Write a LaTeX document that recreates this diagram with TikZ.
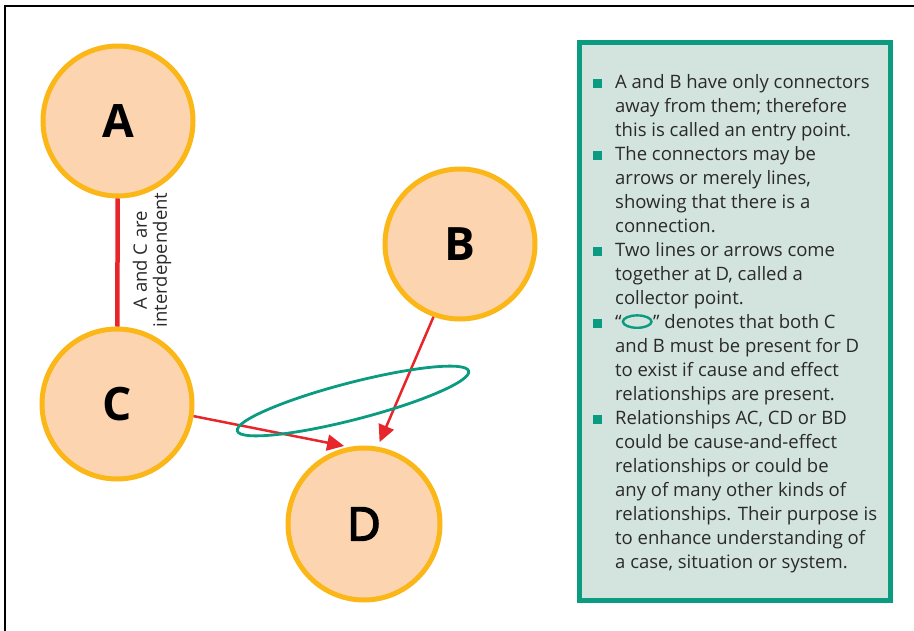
\documentclass[tikz,border=0pt]{standalone}
\usepackage{fontspec}
\setmainfont{Open Sans}
\newfontfamily\medfont[FakeBold=3.5]{Open Sans}
\usetikzlibrary{arrows.meta,shapes.geometric}

\definecolor{peach}{HTML}{FCD5B0}
\definecolor{amber}{HTML}{FBB617}
\definecolor{linkred}{HTML}{E6262B}
\definecolor{tealgreen}{HTML}{0A9B81}
\definecolor{notefill}{HTML}{D3E3DD}
\definecolor{inktext}{HTML}{2A2A2A}

\newsavebox\ovalmark
\newcommand\sqbullet{\makebox[22pt][l]{\textcolor{tealgreen}{\rule[0.8pt]{9pt}{9pt}}}}

\begin{document}
% small inline oval used in the notes
\sbox\ovalmark{\begin{pgfpicture}%
  \pgfpathrectangle{\pgfpoint{0pt}{0pt}}{\pgfpoint{29pt}{14pt}}%
  \pgfusepath{use as bounding box}%
  \pgfsetlinewidth{2.4pt}\pgfsetstrokecolor{tealgreen}%
  \pgfpathellipse{\pgfpoint{14.5pt}{7.4pt}}{\pgfpoint{14.3pt}{0pt}}{\pgfpoint{0pt}{6.2pt}}%
  \pgfusepath{stroke}%
  \pgfsetbaseline{0pt}%
\end{pgfpicture}}%
\begin{tikzpicture}[x=1pt,y=-1pt,
  factor/.style={circle, draw=amber, fill=peach, line width=5pt,
    minimum size=150pt, inner sep=0pt, text=black,
    font=\fontsize{46}{46}\selectfont\bfseries},
  link/.style={draw=linkred, line width=2.5pt},
  tiedlink/.style={draw=linkred, line width=4.5pt},
  causal/.style={link, -{Triangle[length=17pt,width=16pt]}, shorten >=5pt},
  grouping/.style={draw=tealgreen, line width=2.8pt, ellipse, inner sep=0pt},
  notebox/.style={draw=tealgreen, fill=notefill, line width=5pt},
]
\useasboundingbox (0,0) rectangle (914,631);

% frame along the top and left edges
\draw[line width=1.6pt] (5,631) -- (5,6) -- (914,6);

% factors
\node[factor] (A) at (118,121) {A};
\node[factor] (C) at (117,404) {C};
\node[factor] (B) at (460,244) {B};
\node[factor, font=\fontsize{46}{46}\medfont, minimum size=152pt] (D) at (364,524) {D};

% connectors
\draw[tiedlink] (A) -- (C);
\draw[causal] (C.-9.6) -- (D.101);
\draw[causal] (B.-110) -- (D.80);

% joint requirement of C and B
\node[grouping, minimum width=239pt, minimum height=37pt, rotate=14.5] (pair) at (353,401) {};

% label of the A--C link
\node[rotate=90, align=center, text=inktext, inner sep=0pt,
      font=\fontsize{18.5}{20}\selectfont] (aclabel) at (152,260)
  {A and C are\\interdependent};

% explanatory notes
\draw[notebox] (579.5,42.5) rectangle (890.5,600.5);
\node[anchor=base west, inner sep=0pt, text=inktext,
      font=\fontsize{18.5}{24}\selectfont] (notes) at (593,89)
{\begin{tabular}[t]{@{}l@{}l@{}}
\sqbullet & A and B have only connectors\\
 & away from them; therefore\\
 & this is called an entry point.\\
\sqbullet & The connectors may be\\
 & arrows or merely lines,\\
 & showing that there is a\\
 & connection.\\
\sqbullet & Two lines or arrows come\\
 & together at D, called a\\
 & collector point.\\
\sqbullet & “\hspace{1pt}\usebox\ovalmark\hspace{1.5pt}” denotes that both C\\
 & and B must be present for D\\
 & to exist if cause and effect\\
 & relationships are present.\\
\sqbullet & Relationships AC, CD or BD\\
 & could be cause-and-effect\\
 & relationships or could be\\
 & any of many other kinds of\\
 & relationships. Their purpose is\\
 & to enhance understanding of\\
 & a case, situation or system.
\end{tabular}};
\end{tikzpicture}
\end{document}
